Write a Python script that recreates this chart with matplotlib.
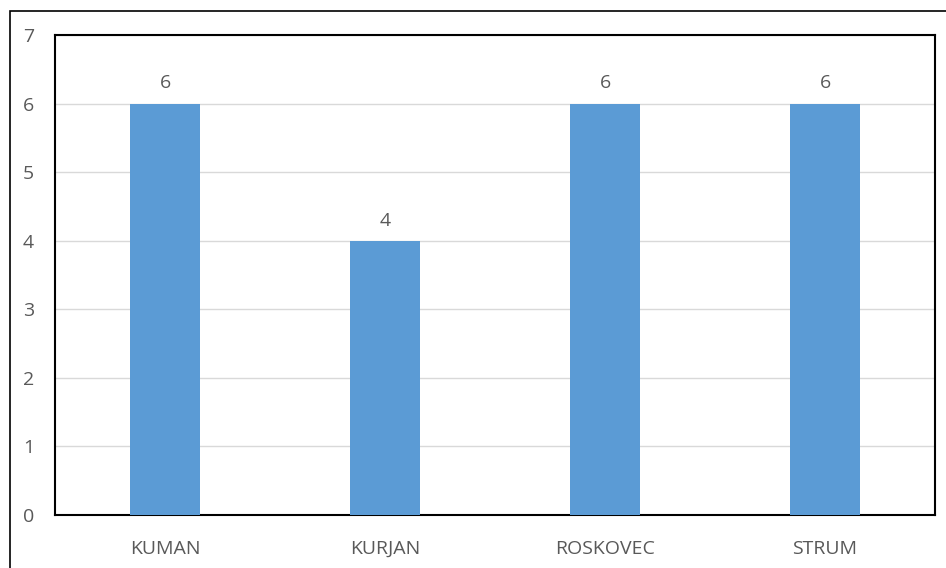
import numpy as np
import matplotlib.pyplot as plt
from matplotlib.patches import Rectangle

categories = ['KUMAN', 'KURJAN', 'ROSKOVEC', 'STRUM']
values = [6, 4, 6, 6]

plt.rcParams['font.family'] = ['Open Sans', 'DejaVu Sans']
gray = '#595959'

fig = plt.figure(figsize=(9.46, 5.68), dpi=100)
ax = fig.add_axes([55 / 946, 1 - 515 / 568, 880 / 946, 480 / 568])

# outer frame, cut off at right and bottom like the source image
fig.patches.append(Rectangle((10 / 946, -0.1), 1.1, 1 - 11 / 568 + 0.1,
                             transform=fig.transFigure, fill=False,
                             edgecolor='black', linewidth=1.2, clip_on=False))

x = np.arange(len(categories))
ax.bar(x, values, width=0.32, color='#5B9BD5', zorder=3)
for xi, v in zip(x, values):
    ax.text(xi, v + 0.22, str(v), ha='center', va='baseline', fontsize=14, color=gray)

ax.set_xlim(-0.5, len(categories) - 0.5)
ax.set_ylim(0, 7)
ax.set_yticks(range(0, 8))
ax.set_xticks(x)
ax.set_xticklabels(categories, va='baseline')
ax.grid(axis='y', color='#d9d9d9', linewidth=1, zorder=0)
ax.tick_params(axis='both', length=0, labelsize=14, labelcolor=gray)
ax.tick_params(axis='y', pad=15)
ax.tick_params(axis='x', pad=28)
for s in ax.spines.values():
    s.set_color('black')
    s.set_linewidth(1.5)

fig.savefig('out.png', dpi=100)
